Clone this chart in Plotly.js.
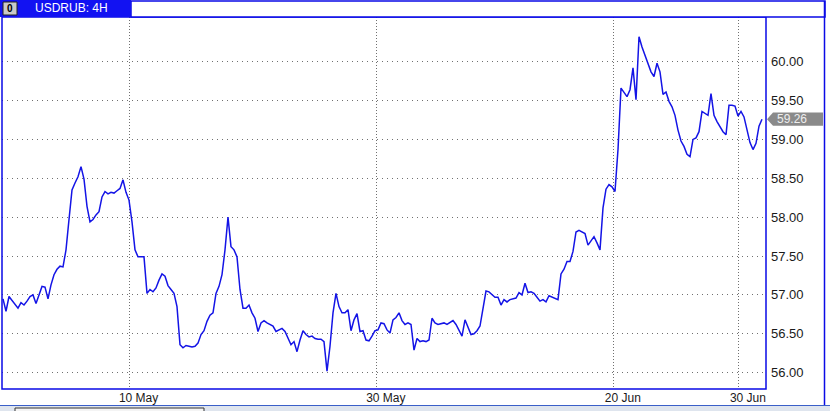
<!DOCTYPE html>
<html>
<head>
<meta charset="utf-8">
<script src="https://cdn.plot.ly/plotly-3.0.1.min.js"></script>
<style>html,body{margin:0;padding:0;background:#fff;}#chart{width:830px;height:411px;}</style>
</head>
<body>
<div id="chart"></div>
<script>
// USDRUB 4H closing prices (one value per bar)
const prices = [
  56.95, 56.79, 56.98, 56.93, 56.89, 56.83, 56.90, 56.87, 56.92, 56.98,
  57.00, 56.89, 57.00, 57.11, 57.10, 56.95, 57.13, 57.26, 57.33, 57.37,
  57.36, 57.58, 57.97, 58.35, 58.44, 58.52, 58.65, 58.49, 58.14, 57.94,
  57.97, 58.03, 58.07, 58.26, 58.33, 58.30, 58.32, 58.31, 58.34, 58.37,
  58.48, 58.32, 58.22, 57.94, 57.58, 57.49, 57.49, 57.49, 57.02, 57.07,
  57.04, 57.09, 57.19, 57.27, 57.24, 57.12, 57.07, 57.02, 56.85, 56.36,
  56.32, 56.35, 56.34, 56.33, 56.34, 56.38, 56.49, 56.54, 56.66, 56.74,
  56.77, 57.02, 57.11, 57.26, 57.58, 58.00, 57.62, 57.58, 57.49, 57.07,
  56.83, 56.83, 56.87, 56.77, 56.70, 56.53, 56.64, 56.67, 56.64, 56.62,
  56.60, 56.53, 56.55, 56.57, 56.53, 56.44, 56.36, 56.40, 56.27, 56.42,
  56.54, 56.49, 56.46, 56.47, 56.44, 56.43, 56.43, 56.40, 56.02, 56.34,
  56.77, 57.02, 56.85, 56.77, 56.77, 56.81, 56.54, 56.68, 56.76, 56.53,
  56.54, 56.42, 56.41, 56.47, 56.54, 56.55, 56.64, 56.63, 56.55, 56.51,
  56.68, 56.71, 56.77, 56.67, 56.62, 56.64, 56.62, 56.29, 56.44, 56.40,
  56.41, 56.40, 56.42, 56.70, 56.64, 56.62, 56.63, 56.64, 56.62, 56.64,
  56.67, 56.62, 56.55, 56.47, 56.68, 56.59, 56.49, 56.50, 56.54, 56.60,
  56.81, 57.05, 57.04, 57.00, 56.97, 56.97, 56.87, 56.94, 56.91, 56.94,
  56.95, 56.96, 57.03, 57.00, 57.15, 57.03, 57.04, 57.02, 56.97, 56.92,
  56.94, 56.91, 56.99, 56.97, 56.95, 56.94, 57.27, 57.33, 57.43, 57.43,
  57.56, 57.81, 57.83, 57.81, 57.79, 57.64, 57.69, 57.75, 57.67, 57.58,
  58.12, 58.36, 58.42, 58.39, 58.33, 58.87, 59.66, 59.61, 59.55, 59.64,
  59.92, 59.51, 60.32, 60.19, 60.09, 59.98, 59.87, 59.81, 59.98, 59.87,
  59.58, 59.61, 59.49, 59.42, 59.31, 59.12, 58.98, 58.91, 58.81, 58.78,
  59.00, 59.02, 59.10, 59.36, 59.34, 59.31, 59.59, 59.31, 59.23, 59.16,
  59.10, 59.06, 59.44, 59.44, 59.43, 59.30, 59.36, 59.29, 59.12, 58.96,
  58.87, 58.95, 59.17, 59.26
];
const barIndex = prices.map((_, i) => i);

// date ticks (bar positions) and labels
const tickBars = [42.2, 124.6, 203.6, 245.3];
const tickLabels = ['10 May', '30 May', '20 Jun', '30 Jun'];

// price ticks
const priceTicks = [56.0, 56.5, 57.0, 57.5, 58.0, 58.5, 59.0, 59.5, 60.0];

const yMin = 55.79, yMax = 60.575;
const lastPrice = prices[prices.length - 1];

// pixel helpers for chrome (frame, header) only
const L = 2, R = 766, T = 17, B = 389;
const px = p => (p - L) / (R - L);
const py = p => (B - p) / (B - T);
const yp = v => (v - yMin) / (yMax - yMin);

const blue = '#0a0ae6';
const h = 0.085;
const pricePath = `M ${px(767)},${yp(lastPrice)} L ${px(773)},${yp(lastPrice + h)} L ${px(823)},${yp(lastPrice + h)} L ${px(823)},${yp(lastPrice - h)} L ${px(773)},${yp(lastPrice - h)} Z`;

const data = [{
  type: 'scatter', mode: 'lines',
  x: barIndex, y: prices,
  line: {color: '#1414e6', width: 1.5},
  hoverinfo: 'skip'
}];

const layout = {
  width: 830, height: 411,
  margin: {l: L, r: 830 - R, t: T, b: 411 - B, pad: 0},
  paper_bgcolor: '#ffffff', plot_bgcolor: '#ffffff',
  showlegend: false,
  xaxis: {
    range: [-0.333, 254.333],
    tickmode: 'array', tickvals: tickBars, ticktext: tickLabels,
    showgrid: true, gridcolor: '#707070', gridwidth: 1, griddash: '1px,2px',
    zeroline: false, showline: false, ticks: '',
    ticklabelshift: 9,
    tickfont: {family: 'Liberation Sans, Arial, sans-serif', size: 12, color: '#1a1a1a'}
  },
  yaxis: {
    side: 'right', range: [yMin, yMax],
    tickmode: 'array', tickvals: priceTicks, ticktext: priceTicks.map(v => v.toFixed(2)),
    showgrid: true, gridcolor: '#707070', gridwidth: 1, griddash: '1px,4px',
    zeroline: false, showline: false, ticks: '',
    ticklabelstandoff: 4,
    tickfont: {family: 'Liberation Sans, Arial, sans-serif', size: 13, color: '#1a1a1a'}
  },
  shapes: [
    // plot frame
    {type: 'rect', xref: 'paper', yref: 'paper', x0: 0, x1: 1, y0: 0, y1: 1,
     line: {color: blue, width: 1.5}, fillcolor: 'rgba(0,0,0,0)'},
    // header outline
    {type: 'rect', xref: 'paper', yref: 'paper', x0: px(131), x1: px(825), y0: 1, y1: py(1),
     line: {color: blue, width: 1.5}, fillcolor: '#ffffff'},
    // header tab
    {type: 'rect', xref: 'paper', yref: 'paper', x0: px(0), x1: px(131), y0: 1, y1: py(0),
     line: {width: 0}, fillcolor: '#1212f2'},
    // tab icon
    {type: 'rect', xref: 'paper', yref: 'paper', x0: px(3), x1: px(17), y0: py(15), y1: py(2),
     line: {color: '#222', width: 1}, fillcolor: '#c9c9c9'},
    // right price panel border
    {type: 'line', xref: 'paper', yref: 'paper', x0: px(824.5), x1: px(824.5), y0: py(405), y1: py(1),
     line: {color: blue, width: 1.5}},
    // bottom strip
    {type: 'rect', xref: 'paper', yref: 'paper', x0: px(0), x1: px(830), y0: py(411), y1: py(405.5),
     line: {width: 0}, fillcolor: '#dfe5ee'},
    {type: 'line', xref: 'paper', yref: 'paper', x0: px(0), x1: px(830), y0: py(405.5), y1: py(405.5),
     line: {color: '#3a5fc8', width: 1}},
    {type: 'rect', xref: 'paper', yref: 'paper', x0: px(15), x1: px(204), y0: py(413), y1: py(408),
     line: {color: '#333', width: 1}, fillcolor: '#f4f4f4'},
    // current price marker
    {type: 'path', xref: 'paper', yref: 'paper', path: pricePath,
     line: {width: 0}, fillcolor: '#8a8a8a'}
  ],
  annotations: [
    {xref: 'paper', yref: 'paper', x: px(33), y: py(8.5), xanchor: 'left', yanchor: 'middle',
     text: 'USDRUB: 4H', showarrow: false,
     font: {family: 'Liberation Sans, Arial, sans-serif', size: 12, color: '#ffffff'}},
    {xref: 'paper', yref: 'paper', x: px(10), y: py(8.5), xanchor: 'center', yanchor: 'middle',
     text: '<b>0</b>', showarrow: false,
     font: {family: 'Liberation Sans, Arial, sans-serif', size: 10, color: '#000'}},
    {xref: 'paper', yref: 'y', x: px(775), y: lastPrice, xanchor: 'left', yanchor: 'middle',
     text: lastPrice.toFixed(2), showarrow: false,
     font: {family: 'Liberation Sans, Arial, sans-serif', size: 12, color: '#eeeeee'}}
  ]
};

Plotly.newPlot('chart', data, layout, {staticPlot: true, displayModeBar: false});
</script>
</body>
</html>
